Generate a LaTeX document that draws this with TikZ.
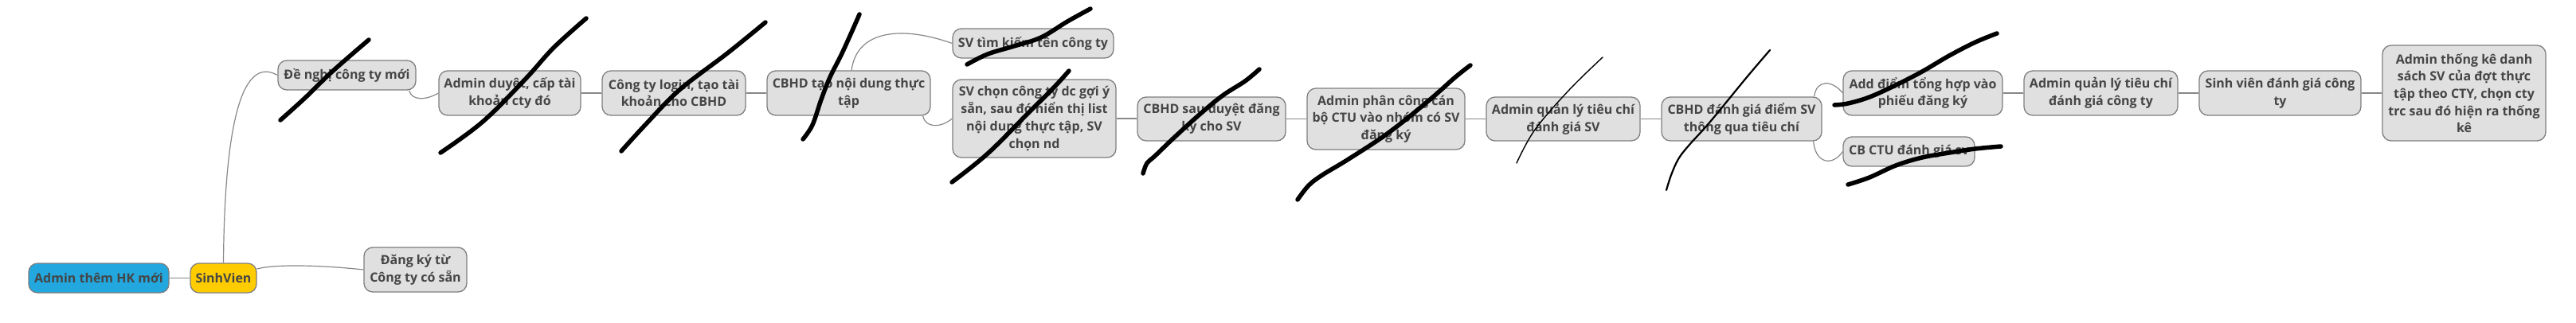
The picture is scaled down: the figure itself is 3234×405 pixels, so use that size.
\documentclass[tikz,border=0pt]{standalone}
\usepackage{fontspec}
\setmainfont{Open Sans}[BoldFont={Open Sans Bold}]
\usetikzlibrary{calc}
\definecolor{nodefill}{HTML}{E0E0E0}
\definecolor{nodeline}{HTML}{7F7F7F}
\definecolor{txt}{HTML}{454545}
\definecolor{blueroot}{HTML}{22A7DF}
\definecolor{yelroot}{HTML}{FFCC00}
\definecolor{linkc}{HTML}{888888}
\begin{document}
\begin{tikzpicture}[x=1pt,y=-1pt,
  box/.style={draw=nodeline, line width=1.3pt, fill=nodefill, rounded corners=11pt,
    inner sep=0pt, align=center, text=txt, font=\fontsize{16}{21.7}\selectfont\bfseries},
  link/.style={draw=linkc, line width=1.2pt},
  pen/.style={draw=black, line width=5.5pt, line cap=round, line join=round},
  thinpen/.style={draw=black, line width=1.4pt, line cap=round, line join=round},
  midpen/.style={draw=black, line width=2.2pt, line cap=round, line join=round},
]
\useasboundingbox (0,0) rectangle (3234,405);
\fill[white] (0,0) rectangle (3234,405);

% nodes
\node[box, fill=blueroot, minimum width=176pt, minimum height=37pt] (hk) at (124,349.5) {Admin thêm HK mới};
\node[box, fill=yelroot, minimum width=83pt, minimum height=37pt] (sv) at (280.5,349.5) {SinhVien};
\node[box, minimum width=129pt, minimum height=56pt] (dk) at (521.5,339) {Đăng ký từ\\Công ty có sẵn};
\node[box, minimum width=173pt, minimum height=37pt] (dn) at (435.5,94.5) {Đề nghị công ty mới};
\node[box, minimum width=178pt, minimum height=56pt] (ad) at (640,117) {Admin duyệt, cấp tài\\khoản cty đó};
\node[box, minimum width=180pt, minimum height=56pt] (ctl) at (846,117) {Công ty login, tạo tài\\khoản cho CBHD};
\node[box, minimum width=205pt, minimum height=56pt] (cbt) at (1065.5,117) {CBHD tạo nội dung thực\\tập};
\node[box, minimum width=202pt, minimum height=37pt] (svt) at (1297,54.5) {SV tìm kiếm tên công ty};
\node[box, minimum width=205pt, minimum height=98pt] (svc) at (1298.5,149) {SV chọn công ty dc gợi ý\\sẵn, sau đó hiển thị list\\nội dung thực tập, SV\\chọn nd};
\node[box, minimum width=186pt, minimum height=55pt] (cbs) at (1521,149.5) {CBHD sau duyệt đăng\\ký cho SV};
\node[box, minimum width=198pt, minimum height=77pt] (apc) at (1740,149.5) {Admin phân công cán\\bộ CTU vào nhóm có SV\\đăng ký};
\node[box, minimum width=193pt, minimum height=55pt] (aqs) at (1962.5,149.5) {Admin quản lý tiêu chí\\đánh giá SV};
\node[box, minimum width=201pt, minimum height=55pt] (cbd) at (2186.5,149.5) {CBHD đánh giá điểm SV\\thông qua tiêu chí};
\node[box, minimum width=200pt, minimum height=56pt] (add) at (2414,117) {Add điểm tổng hợp vào\\phiếu đăng ký};
\node[box, minimum width=165pt, minimum height=37pt] (cbc) at (2396.5,190.5) {CB CTU đánh giá sv};
\node[box, minimum width=193pt, minimum height=56pt] (aqc) at (2637.5,117) {Admin quản lý tiêu chí\\đánh giá công ty};
\node[box, minimum width=203pt, minimum height=56pt] (sdc) at (2862.5,117) {Sinh viên đánh giá công\\ty};
\node[box, minimum width=205pt, minimum height=120pt] (atk) at (3093.5,117) {Admin thống kê danh\\sách SV của đợt thực\\tập theo CTY, chọn cty\\trc sau đó hiện ra thống\\kê};

% connectors
\draw[link] (hk.east) -- (sv.west);
\draw[link] (sv.north) .. controls (282,150) and (305,70) .. (dn.west);
\draw[link] ($(sv.east)+(0,-11.5)$) .. controls (345,332) and (400,333) .. (dk.west);
\draw[link] ($(dn.south east)+(-9,0)$) .. controls (517,127) and (535,126) .. (ad.west);
\draw[link] (ad.east) -- (ctl.west);
\draw[link] (ctl.east) -- (cbt.west);
\draw[link] ($(cbt.north)+(3.5,0)$) .. controls (1076,36) and (1135,33) .. (svt.west);
\draw[link] ($(cbt.south east)+(-10,0)$) .. controls (1161,160) and (1180,162) .. (svc.west);
\draw[link] (svc.east) -- (svc.east -| cbs.west);
\draw[link] (cbs.east) -- (apc.west);
\draw[link] (apc.east) -- (aqs.west);
\draw[link] (aqs.east) -- (cbd.west);
\draw[link] ($(cbd.north east)+(-10,0)$) .. controls (2280,100) and (2300,100) .. (add.west);
\draw[link] ($(cbd.south east)+(-11,0)$) .. controls (2279,205) and (2300,210) .. (cbc.west);
\draw[link] (add.east) -- (aqc.west);
\draw[link] (aqc.east) -- (sdc.west);
\draw[link] (sdc.east) -- (atk.west);

% hand-drawn strike marks
\draw[pen] plot[smooth, tension=0.6] coordinates {(352,151) (383,123) (417,90) (463,50)};
\draw[pen] plot[smooth, tension=0.6] coordinates {(553,192) (606,153) (659,100) (695,60) (736,23)};
\draw[pen] plot[smooth, tension=0.6] coordinates {(780,190) (810,157) (853,113) (913,67) (961,28)};
\draw[pen] plot[smooth, tension=0.6] coordinates {(1008,175) (1020,157) (1031,125) (1042,97) (1058,65) (1079,18)};
\draw[pen] plot[smooth, tension=0.6] coordinates {(1214,81) (1240,68) (1273,58) (1307,47) (1340,27) (1369,11)};
\draw[pen] plot[smooth, tension=0.6] coordinates {(1195,229) (1240,193) (1290,143) (1323,110) (1342,89)};
\draw[pen] plot[smooth, tension=0.6] coordinates {(1435,218) (1440,205) (1450,196) (1475,172) (1507,143) (1535,120) (1563,102) (1581,87)};
\draw[pen] plot[smooth, tension=0.6] coordinates {(1629,251) (1643,233) (1660,220) (1693,200) (1743,167) (1793,127) (1827,97) (1846,82)};
\draw[thinpen] plot[smooth, tension=0.6] coordinates {(1904,205) (1927,163) (1970,113) (2012,72)};
\draw[midpen] plot[smooth, tension=0.6] coordinates {(2092,239) (2098,220) (2107,200) (2120,183) (2147,153) (2193,97) (2222,63)};
\draw[pen] plot[smooth, tension=0.6] coordinates {(2303,132) (2320,130) (2347,122) (2380,107) (2413,90) (2447,70) (2480,53) (2507,42)};
\draw[pen] plot[smooth, tension=0.6] coordinates {(2320,232) (2347,223) (2380,208) (2413,198) (2447,192) (2480,187) (2512,184)};
\end{tikzpicture}
\end{document}
